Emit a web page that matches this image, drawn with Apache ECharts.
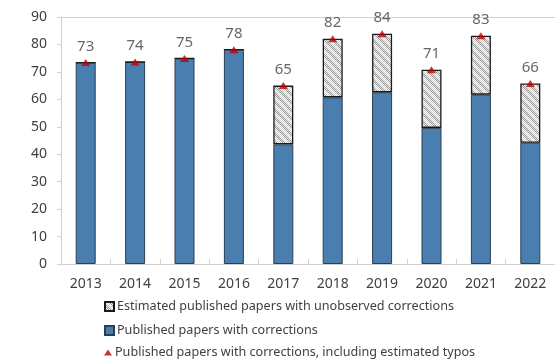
<!DOCTYPE html>
<html>
<head>
<meta charset="utf-8">
<script src="https://cdn.jsdelivr.net/npm/echarts@6/dist/echarts.min.js"></script>
<style>
html,body{margin:0;padding:0;background:#fff;}
#c{width:555px;height:360px;}
</style>
</head>
<body>
<div id="c"></div>
<script>
var categories = ['2013','2014','2015','2016','2017','2018','2019','2020','2021','2022'];
var publishedWithCorrections = [73.4, 73.6, 74.9, 78.1, 43.6, 60.7, 62.6, 49.6, 61.7, 44.2];
var estimatedUnobserved = [0, 0, 0, 0, 21.4, 21.4, 21.3, 21.2, 21.5, 21.6];
var totalIncludingTypos = [73.4, 73.6, 74.9, 78.1, 65.0, 82.1, 83.9, 70.8, 83.2, 65.8];
var yTicks = [0, 10, 20, 30, 40, 50, 60, 70, 80, 90];

var seriesNames = [
  'Estimated published papers with unobserved corrections',
  'Published papers with corrections',
  'Published papers with corrections, including estimated typos'
];

function makePattern() {
  var s = 8;
  var cv = document.createElement('canvas');
  cv.width = s; cv.height = s;
  var ctx = cv.getContext('2d');
  for (var y = 0; y < s; y++) {
    for (var x = 0; x < s; x++) {
      var band = ((x - y) % s + s) % s;
      var c;
      if (band < 3) {
        c = ((x + y) % 2 === 0) ? '#d8d8d8' : '#ffffff';
      } else {
        c = ((x + y) % 2 === 0) ? '#969696' : '#ededed';
      }
      ctx.fillStyle = c;
      ctx.fillRect(x, y, 1, 1);
    }
  }
  return cv;
}
var patternFill = { image: makePattern(), repeat: 'repeat' };

var chart = echarts.init(document.getElementById('c'), null, { renderer: 'canvas' });
var font = '"Noto Sans", "Open Sans", sans-serif';
var textColor = '#404040';
var legendText = { fontFamily: font, fontSize: 12.6, color: textColor, padding: [0, 0, 0, -2] };

var option = {
  animation: false,
  backgroundColor: '#ffffff',
  textStyle: { fontFamily: font },
  grid: { left: 61, right: 0, top: 17, bottom: 96, containLabel: false },
  legend: [
    {
      data: [seriesNames[0]], left: 99, top: 295, itemWidth: 9, itemHeight: 9, icon: 'rect',
      textStyle: legendText, selectedMode: false
    },
    {
      data: [seriesNames[1]], left: 99, top: 319, itemWidth: 9, itemHeight: 9, icon: 'rect',
      textStyle: legendText, selectedMode: false
    },
    {
      data: [seriesNames[2]], left: 99, top: 341, itemWidth: 8, itemHeight: 6, icon: 'triangle',
      textStyle: legendText, selectedMode: false
    }
  ],
  xAxis: [
    {
      type: 'category',
      data: categories,
      boundaryGap: true,
      axisLine: { show: true, lineStyle: { color: '#d0d0d0', width: 1 } },
      axisTick: { show: true, inside: true, length: 5, alignWithLabel: false, lineStyle: { color: '#d0d0d0' } },
      axisLabel: { fontFamily: font, fontSize: 14, color: textColor, margin: 13 },
      splitLine: { show: false }
    },
    {
      type: 'category',
      data: categories,
      position: 'top',
      axisLine: { show: true, lineStyle: { color: '#d0d0d0', width: 1 } },
      axisTick: { show: false },
      axisLabel: { show: false },
      splitLine: { show: false }
    }
  ],
  yAxis: {
    type: 'value',
    min: yTicks[0],
    max: yTicks[yTicks.length - 1],
    interval: 10,
    axisLine: { show: true, lineStyle: { color: '#d0d0d0', width: 1 } },
    axisTick: { show: true, length: 4, lineStyle: { color: '#d0d0d0' } },
    axisLabel: { fontFamily: font, fontSize: 14, color: textColor, margin: 14 },
    splitLine: { show: false }
  },
  series: [
    {
      name: seriesNames[1],
      type: 'bar',
      stack: 'total',
      barWidth: 20,
      data: publishedWithCorrections,
      itemStyle: { color: '#4a7eae', borderColor: '#2a3f55', borderWidth: 1 }
    },
    {
      name: seriesNames[0],
      type: 'bar',
      stack: 'total',
      barWidth: 20,
      data: estimatedUnobserved,
      itemStyle: { color: patternFill, borderColor: '#1a1a1a', borderWidth: 1.3 }
    },
    {
      name: seriesNames[2],
      type: 'scatter',
      symbol: 'triangle',
      symbolSize: [9, 7],
      data: totalIncludingTypos,
      itemStyle: { color: '#c00000' },
      z: 5,
      label: {
        show: true,
        position: 'top',
        distance: 5,
        fontFamily: font,
        fontSize: 15,
        color: textColor,
        formatter: function (p) { return Math.round(p.value); }
      }
    }
  ]
};
chart.setOption(option);
</script>
</body>
</html>
